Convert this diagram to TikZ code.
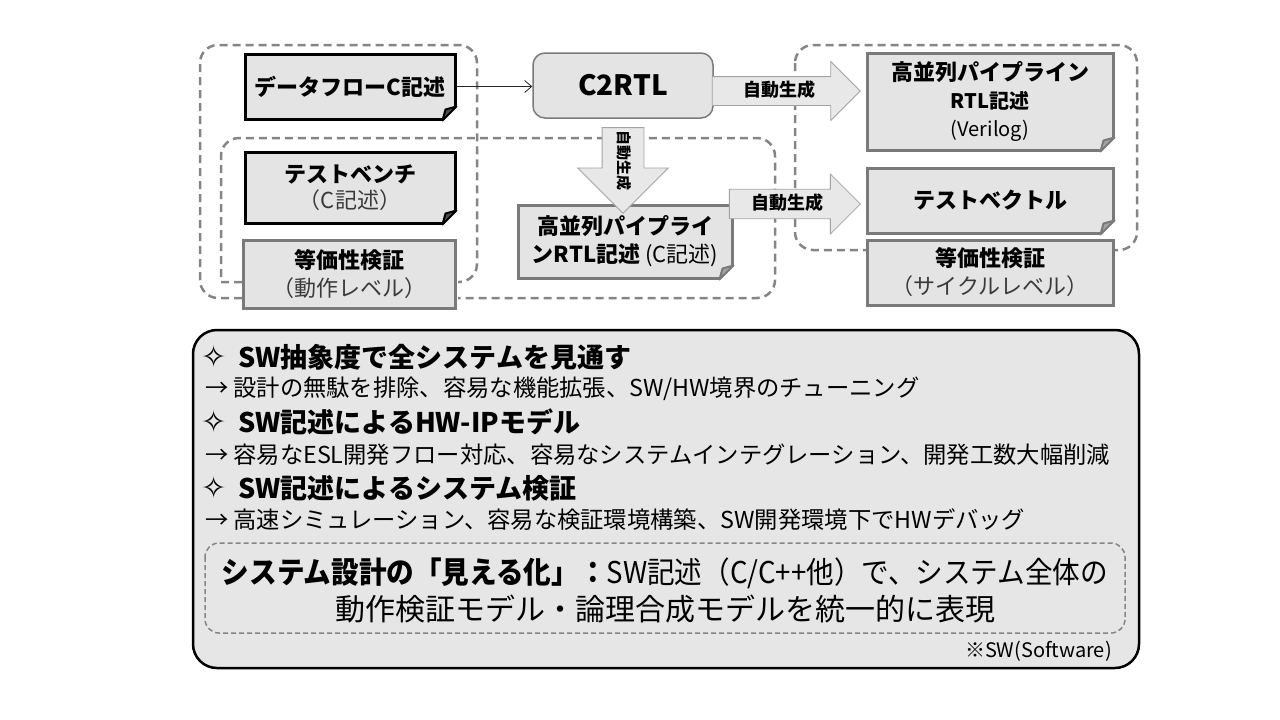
\documentclass[tikz,border=0pt]{standalone}
\usepackage{fontspec}
\setmainfont{Noto Sans CJK JP}
\newfontfamily\symbolfont{DejaVu Sans}
\usetikzlibrary{shapes.arrows,arrows.meta,calc}
\definecolor{boxfill}{HTML}{E4E4E4}
\definecolor{rimgray}{HTML}{7A7A7A}
\definecolor{dashgray}{HTML}{858585}
\definecolor{arrowrim}{HTML}{A3A3A3}
\definecolor{arrowfill}{HTML}{E8E8E8}
\definecolor{panelfill}{HTML}{E6E6E6}
\definecolor{softtext}{HTML}{3A3A3A}
% folded corner at the bottom right of a box
\newcommand{\foldcorner}[2]{%
  \fill[white] ([xshift=-16pt,yshift=-2pt]#1.south east) -- ([xshift=2pt,yshift=-2pt]#1.south east) -- ([xshift=2pt,yshift=16pt]#1.south east) -- cycle;
  \filldraw[fill=#2!70, draw=#2, line width=2pt, line join=round] ([xshift=-14pt]#1.south east) -- ([yshift=14pt]#1.south east) -- ([xshift=-11pt,yshift=11pt]#1.south east) -- cycle;
}
\newcommand{\sparkle}{{\symbolfont\mdseries\fontsize{30}{30}\selectfont ✧}\hspace{12pt}}
\begin{document}
\begin{tikzpicture}[x=1pt,y=-1pt,
    region/.style={draw=dashgray, line width=2.5pt, dash pattern=on 8pt off 5pt},
    darkbox/.style={draw=black, line width=3pt, fill=boxfill, align=center, inner sep=0pt, font=\fontsize{22}{26}\selectfont},
    greybox/.style={draw=rimgray, line width=3pt, fill=boxfill, align=center, inner sep=0pt, font=\fontsize{22}{28}\selectfont},
    genarrow/.style={single arrow, draw=arrowrim, line width=0.8pt, fill=arrowfill, single arrow head extend=15pt, text height=14pt, text depth=4pt, inner ysep=5pt, inner xsep=2pt, font=\fontsize{18}{20}\selectfont\bfseries},
    feed/.style={-{Straight Barb[length=7pt,width=12pt]}, line width=0.8pt, black!85},
    panel/.style={draw=black, line width=2.5pt, fill=panelfill, rounded corners=24pt},
    headline/.style={anchor=west, inner sep=0pt, font=\fontsize{27}{30}\selectfont\bfseries},
    detail/.style={anchor=west, inner sep=0pt, font=\fontsize{23.3}{27}\selectfont}]
\useasboundingbox (0,0) rectangle (1280,720);

% dashed groups
\draw[region, rounded corners=18pt] (242,298) -- (200,298) -- (200,45) -- (477,45) -- (477,282) -- (458,282);
\draw[region] (242,282) -- (221,282) -- (221,200) [rounded corners=18pt] -- (221,138) -- (775,138) -- (775,298) -- (458,298);
\draw[region, rounded corners=18pt] (795,45) rectangle (1137,250);

% C side
\node[darkbox, minimum width=210pt, minimum height=65pt] (dataflow) at (350,86.5) {\bfseries データフローC記述};
\node[darkbox, minimum width=210pt, minimum height=71pt] (bench) at (350,187.5) {\bfseries テストベンチ\\\color{softtext}（C記述）};
\node[greybox, minimum width=212pt, minimum height=68pt] (eqbehav) at (349,274) {\bfseries 等価性検証\\\color{softtext}（動作レベル）};
\foldcorner{dataflow}{black}
\foldcorner{bench}{black}

% tool and its C output
\node[draw=rimgray, line width=1.5pt, fill=boxfill, rounded corners=12pt, minimum width=180pt, minimum height=65pt, font=\fontsize{28}{32}\selectfont\bfseries] (c2rtl) at (623,85.5) {C2RTL};
\node[greybox, minimum width=214pt, minimum height=73pt] (rtlc) at (625,241.5) {\bfseries 高並列パイプライ\\{\bfseries ンRTL記述} (C記述)};
\foldcorner{rtlc}{rimgray}
\draw[feed] (dataflow.east) -- (c2rtl.west |- dataflow.east);

% RTL side
\node[greybox, minimum width=246pt, minimum height=97pt] (rtlv) at (990,101.5) {\bfseries 高並列パイプライン\\{\fontsize{20}{28}\selectfont\bfseries RTL記述}\\{\fontsize{20}{28}\selectfont (Verilog)}};
\node[greybox, minimum width=246pt, minimum height=65pt] (vector) at (990,200.5) {\bfseries テストベクトル};
\node[greybox, minimum width=246pt, minimum height=65pt] (eqcycle) at (990,272.5) {\bfseries 等価性検証\\\color{softtext}（サイクルレベル）};
\foldcorner{rtlv}{rimgray}
\foldcorner{vector}{rimgray}

% generation arrows
\node[genarrow, minimum height=148pt, minimum width=58pt] (genrtl) at (779,91) {自動生成};
\node[genarrow, minimum height=131pt, minimum width=60pt] (genvec) at (787.5,204) {自動生成};
\node[genarrow, rotate=-90, minimum height=84pt, minimum width=90pt, single arrow head extend=24.5pt, text height=12pt, text depth=3pt, inner ysep=13pt, font=\fontsize{15}{16}\selectfont\bfseries] (gendown) at (623,160) {自動生成};

% merits panel
\draw[panel] (193,330) rectangle (1139,668);
\node[headline] (merit1) at (201,357) {\sparkle SW抽象度で全システムを見通す};
\node[detail] (merit1a) at (205,389) {→\hspace{5pt}設計の無駄を排除、容易な機能拡張、SW/HW境界のチューニング};
\node[headline] (merit2) at (201,422) {\sparkle SW記述によるHW-IPモデル};
\node[detail] (merit2a) at (205,455) {→\hspace{5pt}容易なESL開発フロー対応、容易なシステムインテグレーション、開発工数大幅削減};
\node[headline] (merit3) at (201,488) {\sparkle SW記述によるシステム検証};
\node[detail] (merit3a) at (205,520) {→\hspace{5pt}高速シミュレーション、容易な検証環境構築、SW開発環境下でHWデバッグ};

% slogan
\draw[draw=dashgray, line width=1.5pt, dash pattern=on 5pt off 3pt, rounded corners=14pt] (205,543) rectangle (1125,633);
\node[align=center, inner sep=0pt, font=\fontsize{30}{37}\selectfont] (vision) at (665,590.5) {\scalebox{0.92}[1]{{\bfseries システム設計の「見える化」：}SW記述（C/C++他）で、システム全体の}\\動作検証モデル・論理合成モデルを統一的に表現};
\node[anchor=east, inner sep=0pt, font=\fontsize{20}{24}\selectfont] (swnote) at (1112,651) {※SW(Software)};
\end{tikzpicture}
\end{document}
